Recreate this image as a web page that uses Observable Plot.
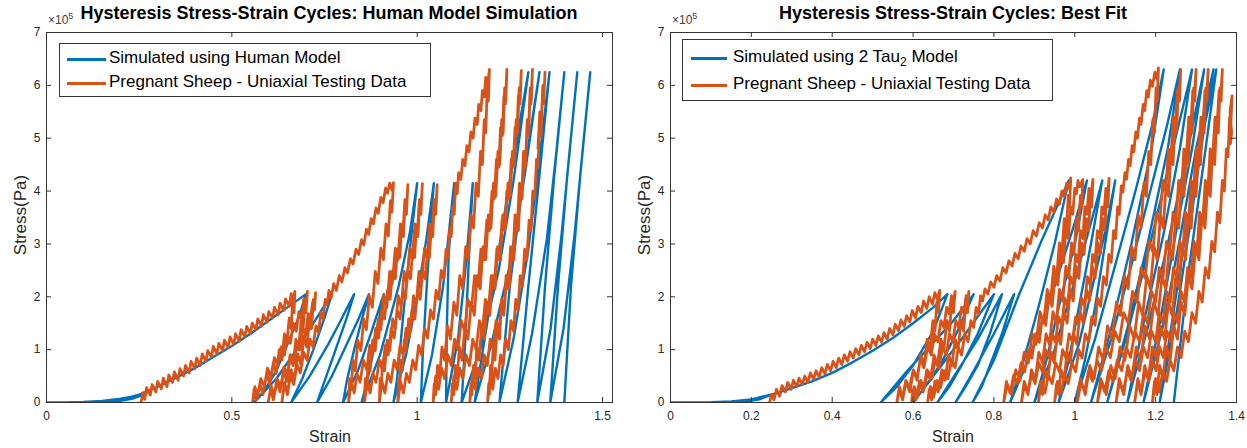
<!DOCTYPE html>
<html><head><meta charset="utf-8">
<script src="https://cdn.jsdelivr.net/npm/d3@7"></script>
<script src="https://cdn.jsdelivr.net/npm/@observablehq/plot@0.6"></script>
<style>
body{margin:0;background:#fff;font-family:"Liberation Sans",Arial,sans-serif;}
#wrap{position:relative;width:1247px;height:448px;overflow:hidden;background:#fff;}
.panel{position:absolute;top:0;}
.t{position:absolute;white-space:nowrap;color:#000;}
.title{font-weight:bold;font-size:18px;transform:translateX(-50%);top:3px;}
.exp{font-size:12px;color:#404040;top:11px;}
.exp sup{font-size:9px;}
.xl{font-size:16px;color:#262626;transform:translateX(-50%);top:428px;}
.yl{font-size:17px;color:#262626;transform:translate(-50%,-50%) rotate(-90deg);top:215px;}
.leg{position:absolute;border:1px solid #333;background:#fff;box-sizing:border-box;}
.leg .sw{position:absolute;height:3px;}
.leg .lt{position:absolute;font-size:17px;color:#000;white-space:nowrap;}
.leg sub{font-size:12px;}
</style></head>
<body><div id="wrap"></div>
<script>
// ---------- axes ----------
const xTicksL = [0, 0.5, 1, 1.5];
const xTicksR = [0, 0.2, 0.4, 0.6, 0.8, 1, 1.2, 1.4];
const yTicks = [0, 1, 2, 3, 4, 5, 6, 7];
const xDomainL = [0, 1.527];
const xDomainR = [0, 1.4];
const yDomain = [0, 7];
const blue = "#0072BD", orange = "#D95319";

// ---------- LEFT: Human model (strain, stress x1e5) ----------
const lbToe = [[0,0],[0.05,0],[0.10,0.01],[0.15,0.03],[0.20,0.07],[0.24,0.12],[0.27,0.17],[0.23,0.07],[0.19,0.02],[0.16,0],[0.2,0.05],[0.25,0.15],[0.30,0.3],[0.35,0.47],[0.40,0.65],[0.45,0.86],[0.50,1.07],[0.55,1.3],[0.60,1.55],[0.65,1.8],[0.70,2.05]];
const lbStage1 = [[0.68,1.6],[0.65,1.1],[0.62,0.6],[0.59,0.25],[0.56,0],[0.62,0.45],[0.67,0.95],[0.72,1.5],[0.77,2.05],[0.75,1.6],[0.72,1.0],[0.69,0.45],[0.66,0],[0.71,0.5],[0.76,1.1],[0.79,1.5],[0.83,2.05],[0.81,1.6],[0.78,1.0],[0.75,0.4],[0.73,0],[0.77,0.5],[0.81,1.1],[0.84,1.55],[0.87,2.05],[0.85,1.55],[0.83,1.0],[0.81,0.4],[0.80,0],[0.84,0.6],[0.87,1.2],[0.91,2.05],[0.895,1.5],[0.88,0.9],[0.865,0.4],[0.85,0]];
const lbStage2 = [[0.90,0.9],[0.95,2.2],[0.98,3.2],[1.00,4.15],[0.985,3.2],[0.97,2.2],[0.955,1.1],[0.945,0.4],[0.936,0],[0.97,0.9],[1.0,2.0],[1.025,3.1],[1.045,4.15],[1.035,3.2],[1.025,2.1],[1.015,0.9],[1.01,0],[1.04,0.9],[1.07,2.2],[1.10,4.15],[1.085,2.8],[1.08,1.4],[1.078,0],[1.11,1.2],[1.13,2.5],[1.15,4.15],[1.14,2.8],[1.13,1.2],[1.12,0]];
const lbStage3 = [[1.17,1.0],[1.22,2.5],[1.26,4.2],[1.30,6.25],[1.25,4.2],[1.20,2.0],[1.155,0],[1.2,1.1],[1.25,2.6],[1.29,4.3],[1.33,6.25],[1.29,4.4],[1.25,2.2],[1.222,0],[1.26,1.2],[1.30,2.9],[1.33,4.6],[1.357,6.25],[1.33,4.3],[1.30,2.2],[1.271,0],[1.31,1.3],[1.35,3.1],[1.375,4.7],[1.397,6.25],[1.37,4.3],[1.345,2.2],[1.324,0],[1.36,1.4],[1.39,3.2],[1.412,4.8],[1.432,6.25],[1.405,4.3],[1.38,2.2],[1.359,0],[1.395,1.4],[1.425,3.2],[1.447,4.8],[1.467,6.25],[1.44,4.3],[1.415,2.2],[1.397,0]];

const loInit = [[0.255,0],[0.26,0.18],[0.265,0.06],[0.27,0.28],[0.28,0.14],[0.285,0.34],[0.295,0.2],[0.30,0.4],[0.31,0.26],[0.315,0.46],[0.325,0.3],[0.33,0.52],[0.34,0.38],[0.345,0.58],[0.355,0.42],[0.36,0.64],[0.37,0.5],[0.375,0.7],[0.385,0.56],[0.39,0.78],[0.40,0.64],[0.405,0.84],[0.415,0.7],[0.42,0.92],[0.43,0.78],[0.435,0.98],[0.445,0.86],[0.45,1.06],[0.46,0.92],[0.465,1.12],[0.475,0.98],[0.48,1.18],[0.49,1.04],[0.495,1.24],[0.505,1.1],[0.51,1.3],[0.52,1.16],[0.525,1.38],[0.535,1.24],[0.54,1.44],[0.55,1.3],[0.555,1.5],[0.565,1.38],[0.57,1.58],[0.58,1.44],[0.585,1.66],[0.595,1.52],[0.60,1.72],[0.61,1.6],[0.615,1.8],[0.625,1.66],[0.63,1.88],[0.64,1.74],[0.645,1.96],[0.655,1.82],[0.66,2.06],[0.665,1.9],[0.67,2.1]];
const loLoops2 = [[0.668,1.7],[0.664,1.9],[0.66,1.4],[0.655,1.6],[0.648,1.1],[0.642,1.3],[0.635,0.8],[0.628,1.0],[0.62,0.55],[0.612,0.75],[0.602,0.35],[0.594,0.55],[0.584,0.15],[0.576,0.35],[0.566,0.05],[0.56,0.25],[0.556,0],
[0.562,0.3],[0.57,0.12],[0.578,0.45],[0.588,0.3],[0.596,0.65],[0.606,0.48],[0.615,0.85],[0.624,0.7],[0.633,1.05],[0.642,0.9],[0.65,1.28],[0.658,1.12],[0.666,1.5],[0.674,1.35],[0.681,1.72],[0.688,1.58],[0.694,1.95],[0.70,1.8],[0.704,2.1],
[0.70,1.7],[0.697,1.9],[0.692,1.35],[0.687,1.55],[0.68,1.0],[0.673,1.2],[0.665,0.7],[0.657,0.9],[0.648,0.4],[0.64,0.6],[0.63,0.2],[0.622,0.4],[0.612,0.05],[0.605,0.25],[0.598,0],
[0.606,0.32],[0.614,0.12],[0.622,0.45],[0.632,0.3],[0.641,0.68],[0.65,0.52],[0.659,0.9],[0.668,0.75],[0.676,1.15],[0.684,1.0],[0.692,1.42],[0.699,1.28],[0.706,1.68],[0.712,1.55],[0.718,1.9],[0.722,1.78],[0.726,2.08],
[0.723,1.75],[0.72,1.95],[0.715,1.4],[0.71,1.6],[0.702,1.05],[0.695,1.25],[0.686,0.72],[0.678,0.92],[0.668,0.42],[0.66,0.62],[0.65,0.18],[0.642,0.38],[0.635,0],
[0.642,0.35],[0.65,0.15],[0.658,0.5],[0.667,0.34],[0.676,0.72],[0.685,0.56],[0.694,0.95],[0.703,0.8],[0.711,1.2],[0.719,1.05],[0.727,1.45],[0.734,1.32],[0.74,1.7],[0.746,1.58],[0.752,1.95],[0.757,1.85]];
const loRise4 = [[0.762,2.12],[0.768,1.98],[0.775,2.25],[0.782,2.12],[0.79,2.4],[0.797,2.28],[0.805,2.55],[0.812,2.45],[0.82,2.72],[0.827,2.62],[0.835,2.9],[0.842,2.8],[0.85,3.08],[0.856,2.98],[0.863,3.28],[0.869,3.18],[0.876,3.48],[0.882,3.38],[0.889,3.68],[0.895,3.58],[0.902,3.88],[0.908,3.78],[0.915,4.06],[0.92,3.96],[0.926,4.15],[0.932,4.02],[0.936,4.16]];
const loLoops4 = [[0.932,3.6],[0.928,3.82],[0.922,3.15],[0.916,3.38],[0.909,2.7],[0.902,2.92],[0.894,2.25],[0.887,2.48],[0.879,1.8],[0.871,2.02],[0.863,1.38],[0.856,1.58],[0.848,0.98],[0.84,1.18],[0.833,0.6],[0.827,0.8],[0.822,0.25],[0.818,0.45],[0.815,0],
[0.822,0.4],[0.83,0.18],[0.838,0.55],[0.846,0.38],[0.855,0.8],[0.864,0.62],[0.872,1.08],[0.88,0.9],[0.888,1.4],[0.896,1.22],[0.904,1.75],[0.912,1.58],[0.92,2.12],[0.927,1.95],[0.934,2.5],[0.941,2.34],[0.947,2.9],[0.953,2.74],[0.958,3.3],[0.963,3.14],[0.967,3.7],[0.971,3.56],[0.975,4.12],
[0.971,3.62],[0.967,3.84],[0.961,3.15],[0.955,3.38],[0.948,2.7],[0.941,2.92],[0.933,2.25],[0.926,2.48],[0.918,1.8],[0.91,2.02],[0.902,1.38],[0.895,1.58],[0.887,0.98],[0.88,1.18],[0.873,0.6],[0.868,0.8],[0.864,0.25],[0.86,0.45],[0.858,0],
[0.865,0.4],[0.873,0.18],[0.881,0.55],[0.889,0.38],[0.898,0.8],[0.906,0.62],[0.914,1.08],[0.922,0.9],[0.93,1.4],[0.938,1.22],[0.946,1.75],[0.954,1.58],[0.961,2.12],[0.968,1.95],[0.975,2.5],[0.982,2.34],[0.988,2.9],[0.993,2.74],[0.998,3.3],[1.002,3.14],[1.006,3.7],[1.01,3.56],[1.014,4.14],
[1.01,3.62],[1.006,3.84],[1.0,3.15],[0.994,3.38],[0.987,2.7],[0.98,2.92],[0.972,2.25],[0.965,2.48],[0.957,1.8],[0.949,2.02],[0.941,1.38],[0.934,1.58],[0.926,0.98],[0.919,1.18],[0.912,0.6],[0.907,0.8],[0.903,0.25],[0.9,0.45],[0.898,0],
[0.905,0.4],[0.913,0.18],[0.921,0.55],[0.929,0.38],[0.938,0.8],[0.946,0.62],[0.954,1.08],[0.962,0.9],[0.97,1.4],[0.978,1.22],[0.986,1.75],[0.994,1.58],[1.001,2.12],[1.008,1.95],[1.015,2.5],[1.022,2.34],[1.028,2.9],[1.033,2.74],[1.038,3.3],[1.042,3.14],[1.046,3.7],[1.05,3.56],[1.054,4.12],
[1.05,3.62],[1.046,3.84],[1.04,3.15],[1.034,3.38],[1.027,2.7],[1.02,2.92],[1.012,2.25],[1.005,2.48],[0.997,1.8],[0.99,2.02],[0.983,1.38],[0.977,1.58],[0.97,0.98],[0.965,1.18],[0.96,0.6],[0.956,0.8],[0.953,0.25],[0.95,0.45],[0.948,0],
[0.955,0.4],[0.963,0.18],[0.971,0.55],[0.979,0.38],[0.988,0.8],[0.996,0.62],[1.004,1.08],[1.012,0.9],[1.02,1.4],[1.028,1.22],[1.036,1.75],[1.044,1.58],[1.051,2.12],[1.058,1.95],[1.065,2.5],[1.072,2.34],[1.078,2.9],[1.083,2.74],[1.088,3.3],[1.092,3.14],[1.096,3.7],[1.1,3.56],[1.104,4.15]];
const loRise6 = [[1.108,3.95],[1.112,4.35],[1.118,4.22],[1.123,4.6],[1.129,4.48],[1.134,4.86],[1.14,4.74],[1.145,5.12],[1.151,5.0],[1.156,5.38],[1.162,5.26],[1.166,5.64],[1.172,5.52],[1.176,5.9],[1.181,5.78],[1.185,6.15],[1.19,6.0],[1.195,6.3]];
const loLoops6 = [[1.192,5.7],[1.189,5.95],[1.185,5.1],[1.181,5.35],[1.176,4.5],[1.171,4.75],[1.165,3.9],[1.159,4.15],[1.152,3.3],[1.145,3.55],[1.138,2.7],[1.131,2.95],[1.123,2.15],[1.115,2.4],[1.107,1.65],[1.099,1.9],[1.09,1.2],[1.082,1.45],[1.074,0.8],[1.067,1.05],[1.06,0.45],[1.055,0.7],[1.05,0.15],[1.046,0.35],[1.043,0],
[1.05,0.5],[1.058,0.25],[1.066,0.65],[1.074,0.45],[1.083,0.9],[1.092,0.7],[1.101,1.2],[1.11,1.0],[1.119,1.55],[1.128,1.35],[1.137,1.95],[1.146,1.75],[1.155,2.4],[1.164,2.2],[1.172,2.9],[1.18,2.7],[1.188,3.45],[1.195,3.25],[1.202,4.0],[1.208,3.85],[1.214,4.6],[1.22,4.45],[1.225,5.2],[1.23,5.05],[1.234,5.8],[1.238,5.65],[1.242,6.3],
[1.239,5.7],[1.236,5.95],[1.232,5.1],[1.228,5.35],[1.223,4.5],[1.218,4.75],[1.212,3.9],[1.206,4.15],[1.199,3.3],[1.192,3.55],[1.185,2.7],[1.178,2.95],[1.17,2.15],[1.162,2.4],[1.154,1.65],[1.146,1.9],[1.137,1.2],[1.129,1.45],[1.121,0.8],[1.114,1.05],[1.108,0.45],[1.103,0.7],[1.099,0.15],[1.095,0.35],[1.092,0],
[1.099,0.5],[1.107,0.25],[1.115,0.65],[1.123,0.45],[1.132,0.9],[1.141,0.7],[1.15,1.2],[1.159,1.0],[1.168,1.55],[1.176,1.35],[1.184,1.95],[1.192,1.75],[1.2,2.4],[1.208,2.2],[1.215,2.9],[1.222,2.7],[1.229,3.45],[1.236,3.25],[1.242,4.0],[1.248,3.85],[1.254,4.6],[1.259,4.45],[1.264,5.2],[1.269,5.05],[1.273,5.8],[1.277,5.65],[1.281,6.28],
[1.278,5.7],[1.275,5.95],[1.271,5.1],[1.267,5.35],[1.262,4.5],[1.257,4.75],[1.251,3.9],[1.245,4.15],[1.238,3.3],[1.231,3.55],[1.224,2.7],[1.217,2.95],[1.21,2.15],[1.203,2.4],[1.196,1.65],[1.189,1.9],[1.181,1.2],[1.174,1.45],[1.167,0.8],[1.161,1.05],[1.156,0.45],[1.152,0.7],[1.148,0.15],[1.145,0.35],[1.142,0],
[1.149,0.5],[1.157,0.25],[1.165,0.65],[1.173,0.45],[1.181,0.9],[1.189,0.7],[1.197,1.2],[1.205,1.0],[1.213,1.55],[1.221,1.35],[1.228,1.95],[1.235,1.75],[1.242,2.4],[1.249,2.2],[1.255,2.9],[1.261,2.7],[1.267,3.45],[1.273,3.25],[1.278,4.0],[1.283,3.85],[1.288,4.6],[1.292,4.45],[1.296,5.2],[1.3,5.05],[1.304,5.8],[1.307,5.65],[1.311,6.3],
[1.308,5.7],[1.305,5.95],[1.301,5.1],[1.297,5.35],[1.292,4.5],[1.287,4.75],[1.282,3.9],[1.276,4.15],[1.27,3.3],[1.264,3.55],[1.258,2.7],[1.252,2.95],[1.246,2.15],[1.24,2.4],[1.234,1.65],[1.228,1.9],[1.222,1.2],[1.216,1.45],[1.21,0.8],[1.205,1.05],[1.201,0.45],[1.198,0.7],[1.195,0.15],[1.193,0.35],[1.19,0],
[1.197,0.5],[1.204,0.25],[1.211,0.65],[1.218,0.45],[1.225,0.9],[1.232,0.7],[1.239,1.2],[1.246,1.0],[1.253,1.55],[1.26,1.35],[1.266,1.95],[1.272,1.75],[1.278,2.4],[1.284,2.2],[1.29,2.9],[1.296,2.7],[1.302,3.45],[1.307,3.25],[1.312,4.0],[1.317,3.85],[1.322,4.6],[1.326,4.45],[1.33,5.2],[1.334,5.05],[1.338,5.8],[1.341,5.65],[1.345,6.25],
[1.342,5.8],[1.339,6.0],[1.335,5.3],[1.331,5.5],[1.326,4.8]];

// ---------- RIGHT: 2 Tau2 model ----------
const rbToe = [[0,0],[0.05,0],[0.10,0.005],[0.15,0.02],[0.20,0.06],[0.25,0.15],[0.22,0.06],[0.18,0.01],[0.15,0],[0.20,0.05],[0.26,0.17],[0.30,0.27],[0.35,0.4],[0.40,0.56],[0.45,0.76],[0.50,0.98],[0.55,1.22],[0.60,1.5],[0.65,1.8],[0.685,2.05]];
const rbStage1 = [[0.65,1.35],[0.60,0.7],[0.56,0.3],[0.52,0],[0.58,0.55],[0.64,1.05],[0.70,1.55],[0.75,2.05],[0.71,1.35],[0.67,0.75],[0.63,0.3],[0.60,0],[0.66,0.6],[0.72,1.2],[0.80,2.05],[0.76,1.3],[0.72,0.7],[0.69,0.3],[0.66,0],[0.71,0.6],[0.76,1.2],[0.82,2.05],[0.79,1.3],[0.76,0.7],[0.73,0.3],[0.705,0],[0.75,0.6],[0.80,1.3],[0.85,2.05],[0.82,1.3],[0.79,0.7],[0.77,0.3],[0.747,0]];
const rbStage2 = [[0.80,0.8],[0.86,2.0],[0.92,3.1],[0.985,4.2],[0.95,3.0],[0.91,1.8],[0.87,0.7],[0.84,0],[0.89,0.9],[0.95,2.2],[1.0,3.4],[1.03,4.2],[1.0,3.0],[0.96,1.8],[0.93,0.8],[0.90,0],[0.95,1.0],[1.0,2.3],[1.04,3.4],[1.068,4.2],[1.04,3.0],[1.01,1.8],[0.985,0.8],[0.96,0],[1.01,1.1],[1.05,2.4],[1.08,3.4],[1.10,4.2],[1.075,3.0],[1.05,1.8],[1.025,0.8],[1.00,0]];
const rbStage3 = [[1.05,1.2],[1.10,2.6],[1.15,4.0],[1.19,5.2],[1.22,6.3],[1.19,4.8],[1.14,3.0],[1.09,1.4],[1.04,0],[1.09,1.2],[1.14,2.6],[1.19,4.1],[1.23,5.3],[1.26,6.3],[1.23,4.8],[1.18,3.0],[1.13,1.4],[1.08,0],[1.13,1.3],[1.18,2.8],[1.23,4.4],[1.29,6.3],[1.26,4.8],[1.22,3.2],[1.17,1.5],[1.13,0],[1.18,1.4],[1.23,3.0],[1.28,4.8],[1.32,6.3],[1.29,4.8],[1.25,3.2],[1.21,1.5],[1.17,0],[1.22,1.5],[1.26,3.1],[1.30,4.8],[1.343,6.3],[1.31,4.8],[1.27,3.0],[1.24,1.5],[1.21,0],[1.25,1.6],[1.29,3.6],[1.32,5.2],[1.35,6.3],[1.32,4.6],[1.28,2.4],[1.245,0]];

const roInit = [[0.245,0],[0.25,0.15],[0.256,0.05],[0.262,0.25],[0.27,0.12],[0.276,0.32],[0.284,0.2],[0.29,0.38],[0.298,0.25],[0.304,0.42],[0.312,0.3],[0.318,0.46],[0.326,0.34],[0.332,0.5],[0.34,0.38],[0.346,0.56],[0.354,0.44],[0.36,0.6],[0.368,0.48],[0.374,0.66],[0.382,0.54],[0.388,0.72],[0.396,0.6],[0.402,0.78],[0.41,0.66],[0.416,0.84],[0.424,0.72],[0.43,0.9],[0.438,0.78],[0.444,0.96],[0.452,0.84],[0.458,1.02],[0.466,0.9],[0.472,1.08],[0.48,0.96],[0.486,1.14],[0.494,1.02],[0.5,1.2],[0.508,1.08],[0.514,1.26],[0.522,1.14],[0.528,1.32],[0.536,1.2],[0.542,1.4],[0.55,1.28],[0.556,1.48],[0.564,1.36],[0.57,1.56],[0.578,1.44],[0.584,1.64],[0.592,1.52],[0.598,1.74],[0.606,1.6],[0.612,1.82],[0.62,1.7],[0.626,1.92],[0.634,1.78],[0.64,2.0],[0.648,1.86],[0.654,2.08],[0.66,1.95],[0.666,2.12]];
const roLoops2 = [[0.663,1.7],[0.659,1.9],[0.654,1.35],[0.649,1.55],[0.642,1.0],[0.635,1.2],[0.627,0.7],[0.619,0.9],[0.61,0.42],[0.601,0.62],[0.592,0.2],[0.583,0.4],[0.574,0.05],[0.566,0.25],[0.56,0],
[0.566,0.3],[0.574,0.1],[0.582,0.42],[0.591,0.28],[0.6,0.6],[0.609,0.45],[0.618,0.82],[0.627,0.66],[0.636,1.05],[0.645,0.9],[0.653,1.3],[0.661,1.15],[0.669,1.55],[0.676,1.42],[0.683,1.8],[0.689,1.68],[0.695,2.02],[0.7,1.9],[0.704,2.1],
[0.7,1.7],[0.696,1.9],[0.69,1.35],[0.684,1.55],[0.676,1.0],[0.669,1.2],[0.66,0.7],[0.652,0.9],[0.643,0.42],[0.634,0.62],[0.625,0.2],[0.616,0.4],[0.607,0.05],[0.6,0.25],[0.596,0],
[0.603,0.3],[0.611,0.1],[0.619,0.42],[0.628,0.28],[0.637,0.6],[0.646,0.45],[0.655,0.82],[0.664,0.66],[0.673,1.05],[0.682,0.9],[0.69,1.3],[0.698,1.15],[0.706,1.55],[0.713,1.42],[0.72,1.8],[0.726,1.68],[0.731,2.02],[0.735,1.9],[0.738,2.1],
[0.735,1.7],[0.731,1.9],[0.725,1.35],[0.719,1.55],[0.711,1.0],[0.704,1.2],[0.696,0.7],[0.688,0.9],[0.679,0.42],[0.671,0.62],[0.662,0.2],[0.654,0.4],[0.646,0.05],[0.64,0.25],[0.636,0],
[0.643,0.3],[0.651,0.1],[0.659,0.42],[0.668,0.28],[0.677,0.6],[0.686,0.45],[0.695,0.82],[0.704,0.66],[0.712,1.05],[0.72,0.9],[0.728,1.3],[0.736,1.15],[0.743,1.55],[0.75,1.42],[0.756,1.8],[0.762,1.68],[0.767,2.02],[0.772,1.92]];
const roRise4 = [[0.778,2.15],[0.785,2.05],[0.792,2.28],[0.8,2.18],[0.807,2.4],[0.815,2.3],[0.822,2.55],[0.83,2.45],[0.837,2.68],[0.845,2.58],[0.852,2.82],[0.86,2.72],[0.867,2.96],[0.875,2.86],[0.882,3.1],[0.89,3.0],[0.897,3.25],[0.905,3.15],[0.912,3.4],[0.92,3.3],[0.927,3.55],[0.934,3.45],[0.941,3.7],[0.948,3.6],[0.955,3.85],[0.962,3.75],[0.968,4.0],[0.974,3.9],[0.98,4.15],[0.985,4.05],[0.99,4.25]];
const roLoops4 = [[0.987,3.7],[0.984,3.92],[0.979,3.25],[0.974,3.48],[0.968,2.8],[0.962,3.02],[0.955,2.35],[0.948,2.58],[0.94,1.92],[0.932,2.14],[0.923,1.5],[0.914,1.72],[0.904,1.1],[0.895,1.3],[0.885,0.75],[0.875,0.95],[0.864,0.42],[0.854,0.62],[0.843,0.15],[0.833,0.35],[0.824,0],
[0.831,0.4],[0.84,0.18],[0.849,0.52],[0.858,0.36],[0.867,0.75],[0.876,0.58],[0.885,1.0],[0.894,0.84],[0.903,1.3],[0.912,1.14],[0.92,1.62],[0.928,1.46],[0.936,1.98],[0.944,1.82],[0.951,2.38],[0.958,2.22],[0.965,2.8],[0.972,2.65],[0.978,3.25],[0.984,3.1],[0.99,3.7],[0.995,3.56],[1.0,4.05],[1.004,3.95],[1.008,4.2],[1.012,4.08],[1.02,4.22],
[1.017,3.7],[1.014,3.92],[1.009,3.25],[1.004,3.48],[0.998,2.8],[0.992,3.02],[0.985,2.35],[0.978,2.58],[0.97,1.92],[0.962,2.14],[0.954,1.5],[0.946,1.72],[0.937,1.1],[0.929,1.3],[0.92,0.75],[0.911,0.95],[0.902,0.42],[0.893,0.62],[0.884,0.15],[0.876,0.35],[0.868,0],
[0.875,0.4],[0.884,0.18],[0.893,0.52],[0.902,0.36],[0.911,0.75],[0.92,0.58],[0.928,1.0],[0.936,0.84],[0.944,1.3],[0.952,1.14],[0.96,1.62],[0.968,1.46],[0.975,1.98],[0.982,1.82],[0.989,2.38],[0.996,2.22],[1.002,2.8],[1.008,2.65],[1.014,3.25],[1.02,3.1],[1.025,3.7],[1.03,3.56],[1.035,4.05],[1.04,3.95],[1.045,4.22],
[1.042,3.7],[1.039,3.92],[1.034,3.25],[1.029,3.48],[1.023,2.8],[1.017,3.02],[1.01,2.35],[1.003,2.58],[0.996,1.92],[0.989,2.14],[0.981,1.5],[0.973,1.72],[0.965,1.1],[0.957,1.3],[0.949,0.75],[0.941,0.95],[0.933,0.42],[0.926,0.62],[0.92,0.15],[0.915,0.35],[0.91,0],
[0.917,0.4],[0.926,0.18],[0.935,0.52],[0.944,0.36],[0.953,0.75],[0.962,0.58],[0.97,1.0],[0.978,0.84],[0.986,1.3],[0.994,1.14],[1.002,1.62],[1.01,1.46],[1.017,1.98],[1.024,1.82],[1.031,2.38],[1.038,2.22],[1.044,2.8],[1.05,2.65],[1.056,3.25],[1.062,3.1],[1.067,3.7],[1.072,3.56],[1.077,4.05],[1.081,3.95],[1.085,4.24],
[1.082,3.7],[1.079,3.92],[1.074,3.25],[1.069,3.48],[1.063,2.8],[1.057,3.02],[1.05,2.35],[1.043,2.58],[1.036,1.92],[1.029,2.14],[1.021,1.5],[1.013,1.72],[1.005,1.1],[0.997,1.3],[0.989,0.75],[0.981,0.95],[0.973,0.42],[0.966,0.62],[0.96,0.15],[0.955,0.35],[0.95,0],
[0.957,0.4],[0.966,0.18],[0.975,0.52],[0.984,0.36],[0.993,0.75],[1.002,0.58],[1.01,1.0],[1.018,0.84],[1.026,1.3],[1.034,1.14],[1.042,1.62],[1.05,1.46],[1.057,1.98],[1.064,1.82],[1.071,2.38],[1.078,2.22],[1.084,2.8],[1.09,2.65],[1.096,3.25],[1.101,3.1],[1.106,3.7],[1.11,3.56],[1.115,4.1],[1.119,3.98]];
const roRise6 = [[1.124,4.35],[1.128,4.22],[1.133,4.6],[1.137,4.48],[1.142,4.86],[1.146,4.74],[1.151,5.12],[1.155,5.0],[1.16,5.38],[1.164,5.26],[1.169,5.64],[1.173,5.52],[1.178,5.9],[1.182,5.78],[1.187,6.1],[1.192,5.98],[1.198,6.25],[1.203,6.12],[1.207,6.33]];
const roLoops6 = [[1.204,5.7],[1.201,5.95],[1.197,5.1],[1.193,5.35],[1.188,4.5],[1.183,4.75],[1.177,3.9],[1.171,4.15],[1.164,3.3],[1.157,3.55],[1.149,2.7],[1.141,2.95],[1.132,2.15],[1.123,2.4],[1.113,1.65],[1.103,1.9],[1.092,1.2],[1.081,1.45],[1.07,0.8],[1.059,1.05],[1.048,0.45],[1.037,0.7],[1.026,0.15],[1.016,0.4],[1.006,0],
[1.014,0.45],[1.024,0.2],[1.034,0.6],[1.044,0.4],[1.055,0.8],[1.066,0.6],[1.077,1.05],[1.088,0.85],[1.099,1.35],[1.11,1.15],[1.121,1.7],[1.132,1.5],[1.143,2.1],[1.154,1.9],[1.164,2.55],[1.174,2.35],[1.184,3.05],[1.193,2.85],[1.202,3.6],[1.21,3.4],[1.218,4.2],[1.225,4.0],[1.232,4.8],[1.238,4.65],[1.244,5.4],[1.249,5.25],[1.254,5.9],[1.258,5.8],[1.262,6.3],
[1.259,5.7],[1.256,5.95],[1.252,5.1],[1.248,5.35],[1.243,4.5],[1.238,4.75],[1.232,3.9],[1.226,4.15],[1.219,3.3],[1.212,3.55],[1.204,2.7],[1.196,2.95],[1.187,2.15],[1.178,2.4],[1.168,1.65],[1.158,1.9],[1.147,1.2],[1.136,1.45],[1.124,0.8],[1.112,1.05],[1.1,0.45],[1.089,0.7],[1.078,0.15],[1.067,0.4],[1.056,0],
[1.064,0.45],[1.074,0.2],[1.084,0.6],[1.094,0.4],[1.105,0.8],[1.116,0.6],[1.127,1.05],[1.138,0.85],[1.149,1.35],[1.16,1.15],[1.17,1.7],[1.18,1.5],[1.19,2.1],[1.2,1.9],[1.209,2.55],[1.218,2.35],[1.227,3.05],[1.235,2.85],[1.243,3.6],[1.25,3.4],[1.257,4.2],[1.264,4.0],[1.27,4.8],[1.276,4.65],[1.282,5.4],[1.287,5.25],[1.292,5.9],[1.296,5.8],[1.3,6.3],
[1.297,5.7],[1.294,5.95],[1.29,5.1],[1.286,5.35],[1.281,4.5],[1.276,4.75],[1.27,3.9],[1.264,4.15],[1.257,3.3],[1.25,3.55],[1.242,2.7],[1.234,2.95],[1.225,2.15],[1.216,2.4],[1.206,1.65],[1.196,1.9],[1.185,1.2],[1.174,1.45],[1.163,0.8],[1.152,1.05],[1.141,0.45],[1.131,0.7],[1.121,0.15],[1.111,0.4],[1.102,0],
[1.11,0.45],[1.12,0.2],[1.13,0.6],[1.14,0.4],[1.15,0.8],[1.16,0.6],[1.17,1.05],[1.18,0.85],[1.19,1.35],[1.2,1.15],[1.209,1.7],[1.218,1.5],[1.227,2.1],[1.236,1.9],[1.244,2.55],[1.252,2.35],[1.26,3.05],[1.267,2.85],[1.274,3.6],[1.281,3.4],[1.288,4.2],[1.294,4.0],[1.3,4.8],[1.306,4.65],[1.312,5.4],[1.317,5.25],[1.322,5.9],[1.326,5.8],[1.33,6.3],
[1.327,5.7],[1.324,5.95],[1.32,5.1],[1.316,5.35],[1.311,4.5],[1.306,4.75],[1.3,3.9],[1.294,4.15],[1.288,3.3],[1.281,3.55],[1.274,2.7],[1.266,2.95],[1.258,2.15],[1.25,2.4],[1.241,1.65],[1.232,1.9],[1.222,1.2],[1.212,1.45],[1.202,0.8],[1.192,1.05],[1.182,0.45],[1.173,0.7],[1.164,0.15],[1.156,0.4],[1.148,0],
[1.156,0.45],[1.165,0.2],[1.174,0.6],[1.183,0.4],[1.192,0.8],[1.201,0.6],[1.21,1.05],[1.219,0.85],[1.228,1.35],[1.237,1.15],[1.246,1.7],[1.255,1.5],[1.263,2.1],[1.271,1.9],[1.279,2.55],[1.287,2.35],[1.295,3.05],[1.302,2.85],[1.309,3.6],[1.316,3.4],[1.323,4.2],[1.329,4.0],[1.335,4.8],[1.341,4.65],[1.347,5.4],[1.352,5.25],[1.357,5.9],[1.361,5.8],[1.365,6.3],
[1.362,5.7],[1.359,5.95],[1.355,5.1],[1.351,5.35],[1.346,4.5],[1.341,4.75],[1.335,3.9],[1.329,4.15],[1.322,3.3],[1.315,3.55],[1.307,2.7],[1.299,2.95],[1.29,2.15],[1.281,2.4],[1.272,1.65],[1.263,1.9],[1.254,1.2],[1.245,1.45],[1.236,0.8],[1.227,1.05],[1.218,0.45],[1.21,0.7],[1.203,0.15],[1.197,0.4],[1.192,0],
[1.2,0.45],[1.209,0.2],[1.218,0.6],[1.227,0.4],[1.236,0.8],[1.245,0.6],[1.254,1.05],[1.263,0.85],[1.272,1.35],[1.281,1.15],[1.29,1.7],[1.299,1.5],[1.307,2.1],[1.315,1.9],[1.323,2.55],[1.331,2.35],[1.339,3.05],[1.346,2.85],[1.353,3.6],[1.359,3.4],[1.365,4.2],[1.37,4.0],[1.375,4.8],[1.379,4.65],[1.383,5.4],[1.386,5.25],[1.389,5.8],[1.384,5.5],[1.388,5.1],[1.385,4.9]];

const leftBlue = [...lbToe, ...lbStage1, ...lbStage2, ...lbStage3];
const leftOrange = [...loInit, ...loLoops2, ...loRise4, ...loLoops4, ...loRise6, ...loLoops6];
const rightBlue = [...rbToe, ...rbStage1, ...rbStage2, ...rbStage3];
const rightOrange = [...roInit, ...roLoops2, ...roRise4, ...roLoops4, ...roRise6, ...roLoops6];

// ---------- build ----------
const W = 623, H = 448, ML = 46, MR = 11, MT = 32, MB = 46;
const FW = W - ML - MR, FH = H - MT - MB;
const axisColor = "#333";
function fmt(d){ return String(d); }

function panel(xDomain, xTicks, blueData, orangeData) {
  return Plot.plot({
    width: W, height: H,
    marginLeft: ML, marginRight: MR, marginTop: MT, marginBottom: MB,
    style: {fontFamily: "Liberation Sans, Arial, sans-serif", fontSize: "12px", background: "transparent", overflow: "visible"},
    x: {domain: xDomain, label: null},
    y: {domain: yDomain, label: null},
    marks: [
      Plot.line(blueData, {x: d => d[0], y: d => d[1], stroke: blue, strokeWidth: 2.4, clip: true, strokeLinejoin: "round"}),
      Plot.line(orangeData, {x: d => d[0], y: d => d[1], stroke: orange, strokeWidth: 2.8, clip: true, strokeLinejoin: "round"}),
      Plot.frame({stroke: axisColor, strokeWidth: 1}),
      Plot.tickX(xTicks, {x: d => d, insetTop: FH - 5, stroke: axisColor}),
      Plot.tickX(xTicks, {x: d => d, insetBottom: FH - 5, stroke: axisColor}),
      Plot.tickY(yTicks, {y: d => d, insetRight: FW - 5, stroke: axisColor}),
      Plot.tickY(yTicks, {y: d => d, insetLeft: FW - 5, stroke: axisColor}),
      Plot.axisX(xTicks, {tickSize: 0, tickPadding: 9, tickFormat: fmt, fill: "#262626", fontSize: 12, label: null}),
      Plot.axisY(yTicks, {tickSize: 0, tickPadding: 6, tickFormat: fmt, fill: "#262626", fontSize: 12, label: null})
    ]
  });
}

const wrap = document.getElementById("wrap");
function place(el, left) { el.classList.add("panel"); el.style.left = left + "px"; wrap.appendChild(el); }
place(panel(xDomainL, xTicksL, leftBlue, leftOrange), 0);
place(panel(xDomainR, xTicksR, rightBlue, rightOrange), 624);

function addText(cls, html, left, extra) {
  const d = document.createElement("div");
  d.className = "t " + cls; d.innerHTML = html; d.style.left = left + "px";
  if (extra) Object.assign(d.style, extra);
  wrap.appendChild(d); return d;
}
addText("title", "Hysteresis Stress-Strain Cycles: Human Model Simulation", 329);
addText("title", "Hysteresis Stress-Strain Cycles: Best Fit", 953);
addText("exp", "×10<sup>5</sup>", 48);
addText("exp", "×10<sup>5</sup>", 672);
addText("xl", "Strain", 330);
addText("xl", "Strain", 953);
addText("yl", "Stress(Pa)", 21);
addText("yl", "Stress(Pa)", 645);

function legend(left, top, w, h, items) {
  const b = document.createElement("div");
  b.className = "leg";
  Object.assign(b.style, {left: left + "px", top: top + "px", width: w + "px", height: h + "px"});
  items.forEach(it => {
    const s = document.createElement("div"); s.className = "sw";
    Object.assign(s.style, {left: it.sx + "px", width: it.sw + "px", top: (it.y - 1.5) + "px", background: it.color});
    b.appendChild(s);
    const t = document.createElement("div"); t.className = "lt"; t.innerHTML = it.label;
    Object.assign(t.style, {left: it.tx + "px", top: (it.y - 11) + "px"});
    b.appendChild(t);
  });
  wrap.appendChild(b);
}
legend(59, 43, 372, 54, [
  {color: blue, label: "Simulated using Human Model", sx: 7, sw: 39, tx: 49, y: 15},
  {color: orange, label: "Pregnant Sheep - Uniaxial Testing Data", sx: 7, sw: 39, tx: 49, y: 39}
]);
legend(682, 39, 371, 62, [
  {color: blue, label: "Simulated using 2 Tau<sub>2</sub> Model", sx: 8, sw: 36, tx: 50, y: 18},
  {color: orange, label: "Pregnant Sheep - Uniaxial Testing Data", sx: 8, sw: 36, tx: 50, y: 45}
]);
</script>
</body></html>
